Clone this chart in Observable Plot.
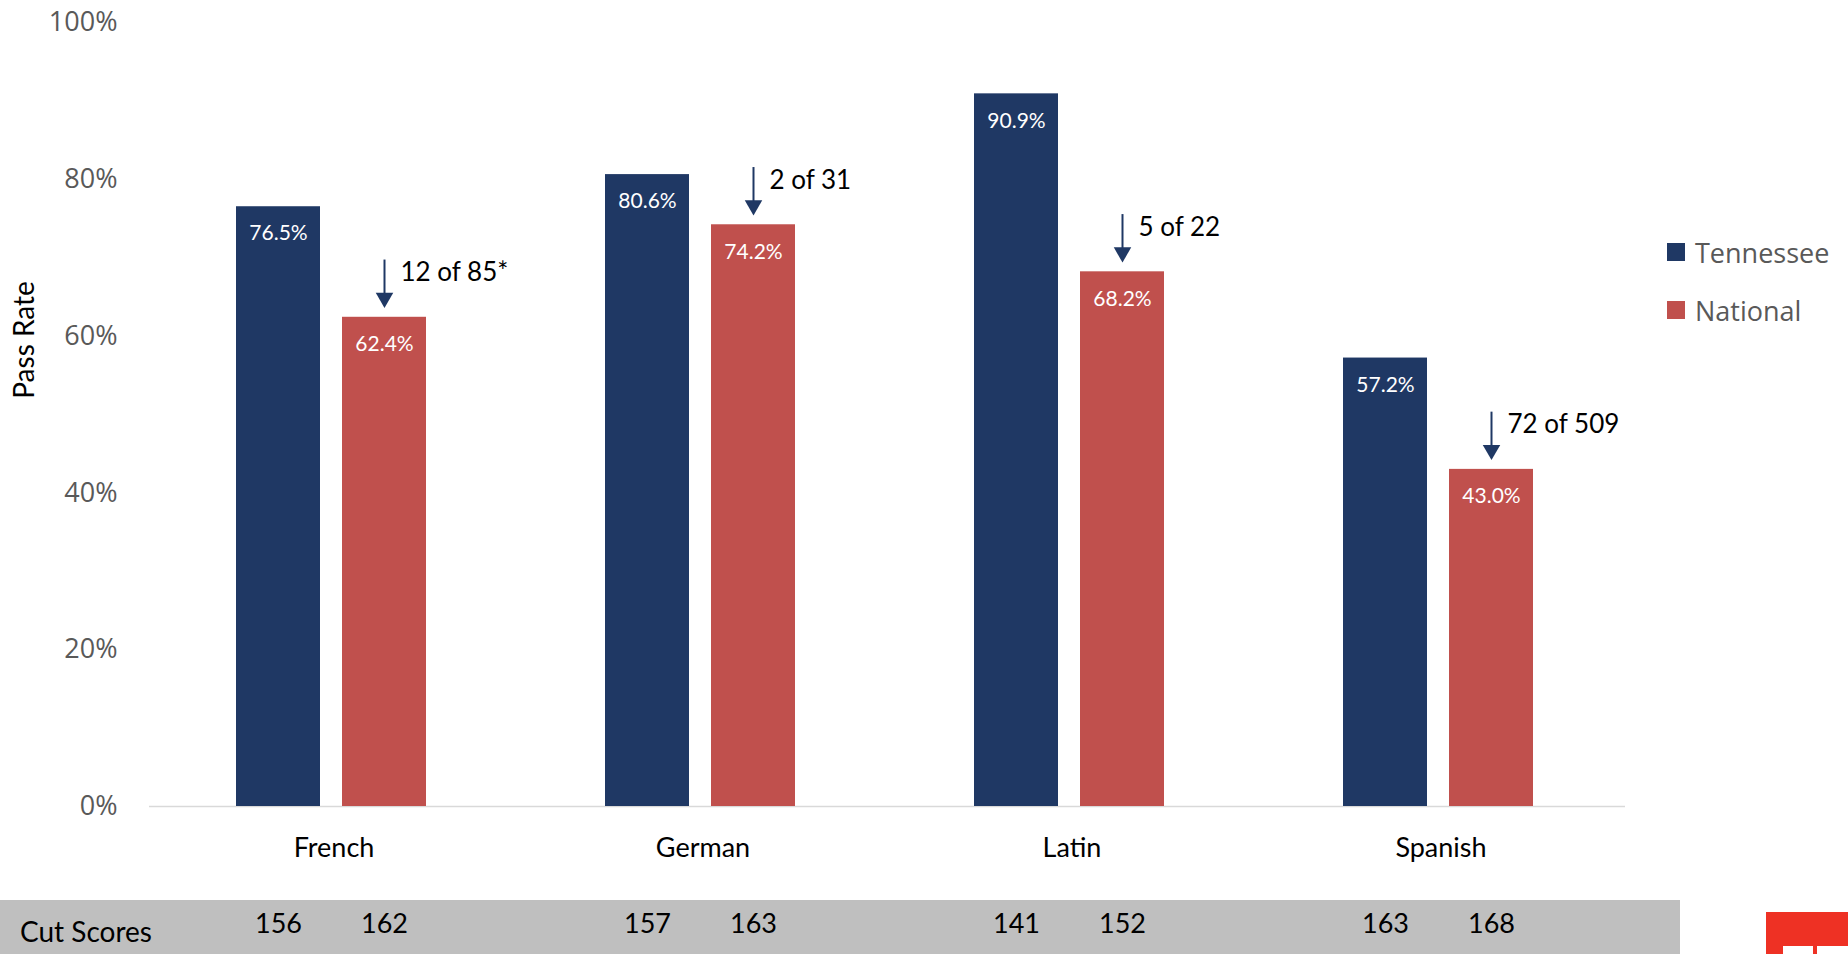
<!DOCTYPE html>
<html>
<head>
<meta charset="utf-8">
<script src="https://cdn.jsdelivr.net/npm/d3@7"></script>
<script src="https://cdn.jsdelivr.net/npm/@observablehq/plot@0.6"></script>
<style>
  html, body { margin: 0; padding: 0; background: #fff; }
  #wrap { position: relative; width: 1848px; height: 954px; overflow: hidden; }
  #band { position: absolute; left: 0; top: 900px; width: 1680px; height: 54px; background: #bfbfbf; z-index: 0; }
  #band span { position: absolute; left: 20px; top: 31px; transform: translateY(-50%); font: 28px Lato, sans-serif; color: #000; white-space: nowrap; }
  #chart { position: absolute; left: 0; top: 0; z-index: 1; }
  .legend-item { position: absolute; left: 1667px; height: 40px; line-height: 40px; display: flex; align-items: center; font: 27px "Open Sans", sans-serif; color: #595959; z-index: 2; white-space: nowrap; }
  .swatch { width: 18px; height: 18px; margin-right: 10px; display: inline-block; }
  #logo { position: absolute; left: 1766px; top: 912px; width: 82px; height: 42px; background: #ee3124; overflow: hidden; z-index: 2; }
  #logo .w { position: absolute; background: #fff; }
</style>
</head>
<body>
<div id="wrap">
  <div id="band"><span>Cut Scores</span></div>
  <div id="chart"></div>
  <div id="logo">
    <div class="w" style="left:17px;top:34px;width:30px;height:8px;"></div>
    <div class="w" style="left:51px;top:34px;width:31px;height:8px;"></div>
  </div>
</div>
<script>
const languages = ["French", "German", "Latin", "Spanish"];
const series = ["Tennessee", "National"];
const tennessee = [0.765, 0.806, 0.909, 0.572];
const national = [0.624, 0.742, 0.682, 0.430];
const cutTennessee = [156, 157, 141, 163];
const cutNational = [162, 163, 152, 168];
const rankNotes = ["12 of 85*", "2 of 31", "5 of 22", "72 of 509"];
const yTicks = [0, 0.2, 0.4, 0.6, 0.8, 1];
const colors = ["#1f3864", "#c0504d"];

const rows = languages.flatMap((lang, i) => [
  {lang, series: "Tennessee", rate: tennessee[i], cut: cutTennessee[i]},
  {lang, series: "National", rate: national[i], cut: cutNational[i]}
]);
const notes = languages.map((lang, i) => ({lang, series: "National", rate: national[i], note: rankNotes[i]}));
const axisLabel = [{lang: languages[0], y: 0.595, label: "Pass Rate"}];

const pct1 = d3.format(".1%");

const chart = Plot.plot({
  width: 1848,
  height: 954,
  marginLeft: 147,
  marginRight: 222,
  marginTop: 22,
  marginBottom: 148,
  style: {background: "none", fontFamily: "Lato, sans-serif", overflow: "visible"},
  fx: {domain: languages, padding: 0},
  x: {domain: series, paddingInner: 0.21, paddingOuter: 0.84, align: 0.485, axis: null},
  y: {domain: [0, 1]},
  color: {domain: series, range: colors},
  marks: [
    Plot.ruleY([0], {stroke: "#d9d9d9", strokeWidth: 1.5}),
    Plot.barY(rows, {fx: "lang", x: "series", y: "rate", fill: "series"}),
    Plot.text(rows, {fx: "lang", x: "series", y: "rate", text: d => pct1(d.rate), dy: 27, fill: "white", fontSize: 21, fontFamily: "Lato"}),
    Plot.ruleX(notes, {fx: "lang", x: "series", y1: d => d.rate + 0.073, y2: d => d.rate + 0.028, stroke: "#1f3864", strokeWidth: 2}),
    Plot.dot(notes, {fx: "lang", x: "series", y: d => d.rate + 0.012, dy: -10, symbol: "triangle", rotate: 180, r: 6.5, fill: "#1f3864", stroke: "none"}),
    Plot.text(notes, {fx: "lang", x: "series", y: d => d.rate + 0.073, text: "note", dx: 16, dy: 13, textAnchor: "start", fontSize: 26, fill: "black", fontFamily: "Lato"}),
    Plot.text(rows, {fx: "lang", x: "series", text: "cut", frameAnchor: "bottom", dy: 126, fontSize: 27, fill: "black", fontFamily: "Lato"}),
    Plot.axisFx({anchor: "bottom", tickSize: 0, tickPadding: 31, fontSize: 27, fill: "black", fontFamily: "Lato", label: null}),
    Plot.axisY({ticks: yTicks, tickFormat: d3.format(".0%"), tickSize: 0, tickPadding: 32, fontSize: 27, fill: "#595959", fontFamily: "Open Sans", label: null}),
    Plot.text(axisLabel, {fx: "lang", y: "y", text: "label", frameAnchor: "left", textAnchor: "middle", dx: -124, rotate: -90, fontSize: 28, fill: "black", fontFamily: "Lato"})
  ]
});
document.getElementById("chart").appendChild(chart);

const legendTops = [232, 290];
series.forEach((s, i) => {
  const item = document.createElement("div");
  item.className = "legend-item";
  item.style.top = legendTops[i] + "px";
  const sw = document.createElement("span");
  sw.className = "swatch";
  sw.style.background = colors[i];
  item.appendChild(sw);
  item.appendChild(document.createTextNode(s));
  document.getElementById("wrap").appendChild(item);
});
</script>
</body>
</html>
